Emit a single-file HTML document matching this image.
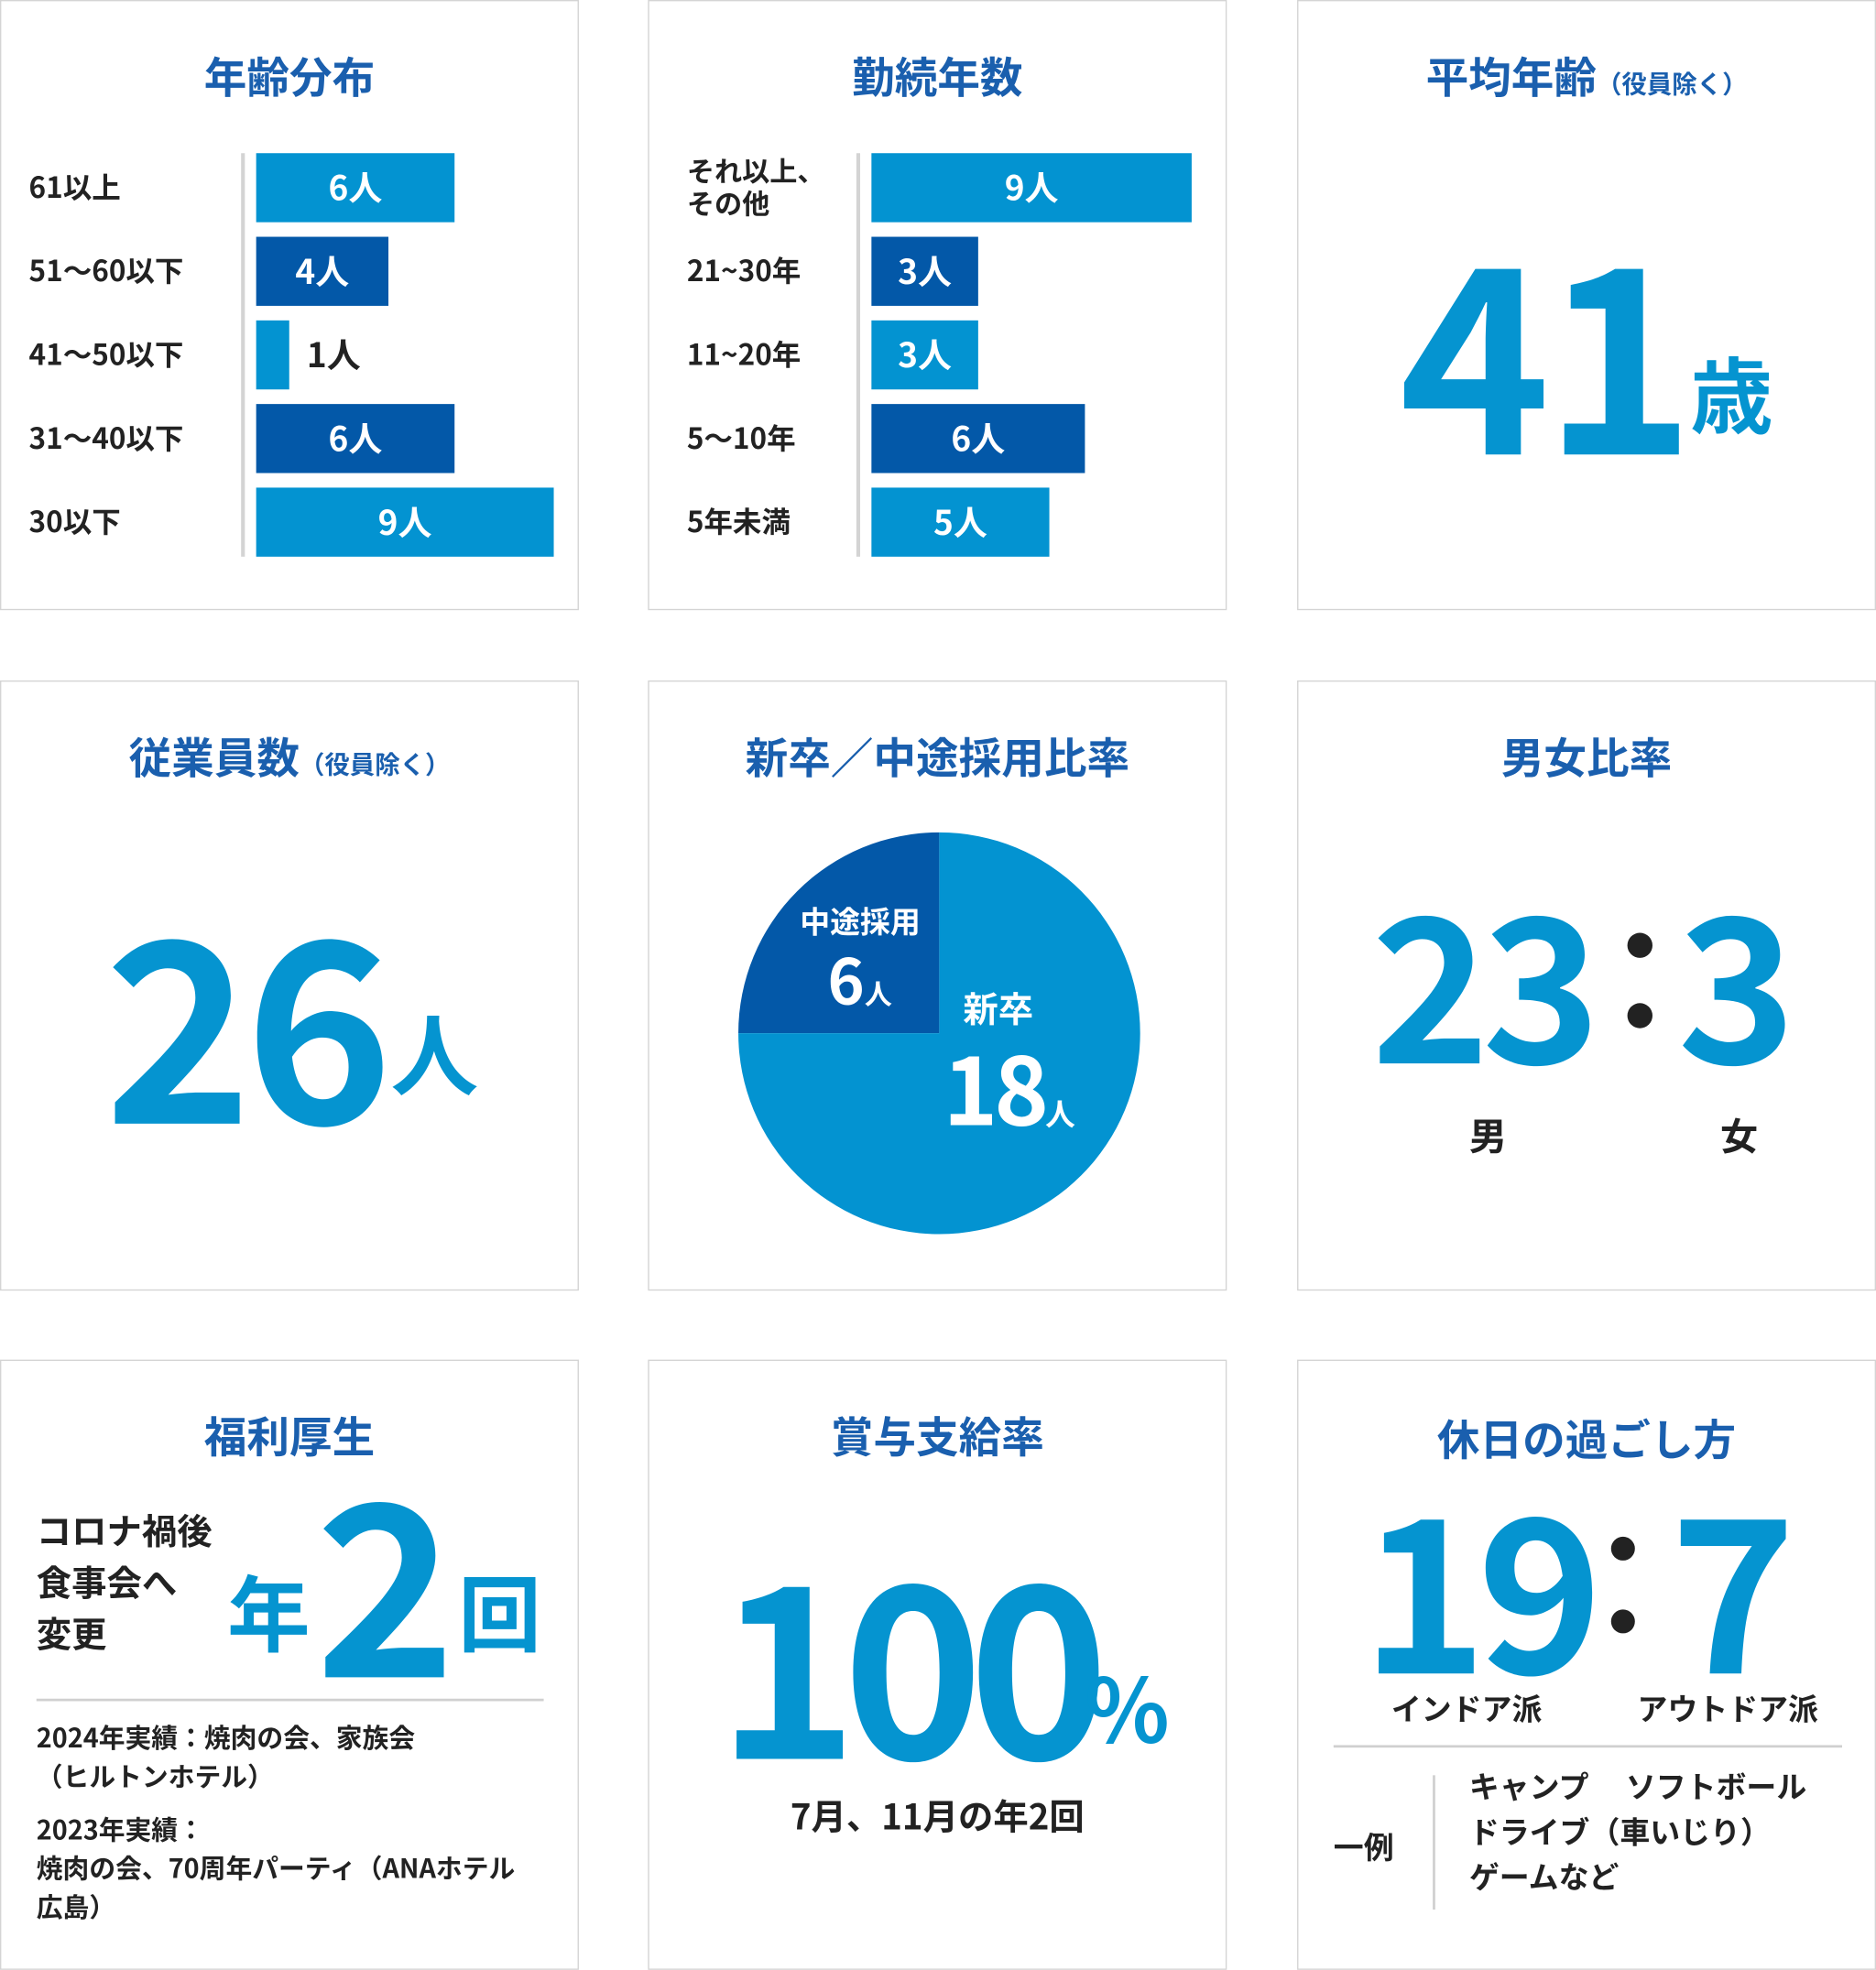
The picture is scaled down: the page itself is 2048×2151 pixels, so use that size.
<!DOCTYPE html>
<html><head><meta charset="utf-8">
<style>
html,body{margin:0;padding:0;background:#fff;width:2048px;height:2150px;overflow:hidden}
#wrap{position:absolute;left:0;top:0;width:1494px;height:1568px;transform:scale(1.37082);transform-origin:0 0;font-family:"Liberation Sans","Noto Sans CJK JP",sans-serif;font-weight:700;color:#222}
.panel{position:absolute;width:459px;height:484px;border:1px solid #d4d4d4;background:#fff}
.t{position:absolute;left:0;right:0;text-align:center;color:#1a5fae;font-size:34px;top:34px;font-family:"Noto Sans CJK JP",sans-serif;font-weight:700}
.t small{font-size:20px}
.abs{position:absolute;font-family:"Noto Sans CJK JP",sans-serif;font-weight:700;white-space:nowrap}
.big{color:#0594d0;line-height:1}
</style></head><body>
<div id="wrap">

<div class="panel" style="left:0;top:0">
 <div class="t">年齢分布</div>
 <svg id="c1" width="459" height="484" style="position:absolute;left:0;top:0"></svg>
</div>

<div class="panel" style="left:516px;top:0">
 <div class="t">勤続年数</div>
 <svg id="c2" width="459" height="484" style="position:absolute;left:0;top:0"></svg>
</div>

<div class="panel" style="left:1033px;top:0">
 <div class="t">平均年齢<small>（役員除く）</small></div>
 <div class="abs big" style="left:80px;top:170px;font-size:205px;letter-spacing:-6px">41</div>
 <div class="abs big" style="left:312px;top:278px;font-size:66px">歳</div>
</div>

<div class="panel" style="left:0;top:542px">
 <div class="t">従業員数<small>（役員除く）</small></div>
 <div class="abs big" style="left:82px;top:165px;font-size:200px;letter-spacing:-6px">26</div>
 <div class="abs big" style="left:310px;top:260px;font-size:70px">人</div>
</div>

<div class="panel" style="left:516px;top:542px">
 <div class="t">新卒／中途採用比率</div>
 <svg id="c3" width="459" height="484" style="position:absolute;left:0;top:0"></svg>
 <div class="abs" style="left:120px;top:172px;font-size:24px;color:#fff">中途採用</div>
 <div class="abs" style="left:142px;top:200px;font-size:50px;color:#fff">6<span style="font-size:22px">人</span></div>
 <div class="abs" style="left:250px;top:240px;font-size:28px;color:#fff">新卒</div>
 <div class="abs" style="left:234px;top:268px;font-size:74px;color:#fff;letter-spacing:-3px">18<span style="font-size:24px;letter-spacing:0">人</span></div>
</div>

<div class="panel" style="left:1033px;top:542px">
 <div class="t">男女比率</div>
 <div class="abs big" style="left:58px;top:155px;font-size:160px;letter-spacing:-6px">23</div>
 <div class="abs" style="left:262px;top:200px;width:20px;height:20px;border-radius:50%;background:#222"></div>
 <div class="abs" style="left:262px;top:256px;width:20px;height:20px;border-radius:50%;background:#222"></div>
 <div class="abs big" style="left:302px;top:155px;font-size:160px">3</div>
 <div class="abs" style="left:136px;top:338px;font-size:30px">男</div>
 <div class="abs" style="left:336px;top:338px;font-size:30px">女</div>
</div>

<div class="panel" style="left:0;top:1083px">
 <div class="t">福利厚生</div>
 <div class="abs" style="left:28px;top:115px;font-size:28px;line-height:41px;white-space:normal;width:160px">コロナ禍後<br>食事会へ<br>変更</div>
 <div class="abs big" style="left:180px;top:165px;font-size:66px">年</div>
 <div class="abs big" style="left:250px;top:75px;font-size:190px">2</div>
 <div class="abs big" style="left:364px;top:165px;font-size:66px">回</div>
 <div class="abs" style="left:28px;top:269px;width:404px;height:2px;background:#d0d0d0"></div>
 <div class="abs" style="left:28px;top:285px;font-size:21px;line-height:31px">2024年実績：焼肉の会、家族会<br>（ヒルトンホテル）</div>
 <div class="abs" style="left:28px;top:358px;font-size:21px;line-height:31px">2023年実績：<br>焼肉の会、70周年パーティ（ANAホテル<br>広島）</div>
</div>

<div class="panel" style="left:516px;top:1083px">
 <div class="t">賞与支給率</div>
 <div class="abs big" style="left:54px;top:140px;font-size:190px;letter-spacing:-12px">100</div>
 <div class="abs big" style="left:347px;top:240px;font-size:70px">%</div>
 <div class="abs" style="left:0;right:0;text-align:center;top:342px;font-size:28px">7月、11月の年2回</div>
</div>

<div class="panel" style="left:1033px;top:1083px">
 <div class="t" style="top:36px">休日の過ごし方</div>
 <div class="abs big" style="left:50px;top:90px;font-size:170px;letter-spacing:-8px">19</div>
 <div class="abs" style="left:249px;top:140px;width:19px;height:19px;border-radius:50%;background:#222"></div>
 <div class="abs" style="left:249px;top:198px;width:19px;height:19px;border-radius:50%;background:#222"></div>
 <div class="abs big" style="left:296px;top:90px;font-size:170px">7</div>
 <div class="abs" style="left:74px;top:258px;font-size:24px">インドア派</div>
 <div class="abs" style="left:270px;top:258px;font-size:24px">アウトドア派</div>
 <div class="abs" style="left:28px;top:306px;width:405px;height:2px;background:#d0d0d0"></div>
 <div class="abs" style="left:28px;top:368px;font-size:24px">一例</div>
 <div class="abs" style="left:107px;top:330px;width:2px;height:107px;background:#d0d0d0"></div>
 <div class="abs" style="left:136px;top:320px;font-size:24px;line-height:36px">キャンプ　 ソフトボール<br>ドライブ（車いじり）<br>ゲームなど</div>
</div>
</div>

<script>
const ageCats=["61以上","51〜60以下","41〜50以下","31〜40以下","30以下"];
const ageVals=[6,4,1,6,9];
const tenureCats=["それ以上、|その他","21~30年","11~20年","5〜10年","5年未満"];
const tenureVals=[9,3,3,6,5];
const hiringCats=["中途採用","新卒"];
const hiringVals=[6,18];
const NS="http://www.w3.org/2000/svg";
function mk(svg,tag,attrs){const e=document.createElementNS(NS,tag);for(const k in attrs)e.setAttribute(k,attrs[k]);svg.appendChild(e);return e;}
function barChart(id,cats,vals,axisX,x0,unitW,labelX,colors){
 const svg=document.getElementById(id);
 const yTop=121,pitch=66.6,bh=55;
 const ax=mk(svg,"rect",{x:axisX,y:yTop,width:3,height:pitch*4+bh,fill:"#d4d4d4"});
 
 
 cats.forEach((c,i)=>{
  const y=yTop+i*pitch, w=vals[i]*unitW;
  const r=mk(svg,"rect",{x:x0,y:y,width:w,height:bh,fill:colors[i]});
  
  
  const lines=c.split("|");
  lines.forEach((ln,j)=>{
   const t=mk(svg,"text",{x:labelX,y:y+bh/2+8+(lines.length>1?(j-0.5)*26:0),"font-size":lines.length>1?22:23,"font-weight":700,fill:"#222","font-family":"Noto Sans CJK JP,sans-serif"});
   t.textContent=ln;
   
   
  });
  const inside=w>60;
  const v=mk(svg,"text",{x:inside?x0+w/2:x0+w+14,y:y+bh/2+10,"font-size":27,"font-weight":700,fill:inside?"#fff":"#222","text-anchor":inside?"middle":"start","font-family":"Noto Sans CJK JP,sans-serif"});
  v.textContent=vals[i]+"人";
  
  
 });
}
const L="#0393d1",D="#0358a8";
barChart("c1",ageCats,ageVals,191,203,237/9,22,[L,D,L,D,L]);
barChart("c2",tenureCats,tenureVals,165,177,255/9,30,[L,D,L,D,L]);
(function(){
 const svg=document.getElementById("c3");
 const cx=231,cy=280,r=160;
 const total=hiringVals.reduce((a,b)=>a+b,0);
 let a0=0;const cols=[D,L];
 hiringVals.forEach((v,i)=>{
  const a1=a0-v/total*2*Math.PI;
  const p=(a)=>[cx+r*Math.sin(a),cy-r*Math.cos(a)];
  const [x0,y0]=p(a0),[x1,y1]=p(a1);
  const large=v/total>0.5?1:0;
  const path=mk(svg,"path",{d:`M${cx},${cy}L${x0},${y0}A${r},${r} 0 ${large} 0 ${x1},${y1}Z`,fill:cols[i]});
  
  
  a0=a1;
 });
})();
</script>
</body></html>
